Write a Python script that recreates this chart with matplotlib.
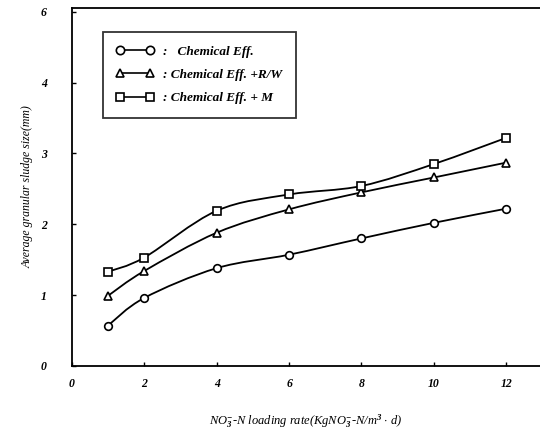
import matplotlib
matplotlib.use("Agg")
import matplotlib.pyplot as plt
from matplotlib.path import Path
from matplotlib.patches import PathPatch

plt.rcParams['font.family'] = ['Liberation Serif', 'DejaVu Serif']
plt.rcParams['font.style'] = 'italic'
plt.rcParams['font.weight'] = 'bold'
plt.rcParams['mathtext.fontset'] = 'custom'
plt.rcParams['mathtext.rm'] = 'Liberation Serif:italic:bold'
plt.rcParams['mathtext.it'] = 'Liberation Serif:italic:bold'
plt.rcParams['mathtext.bf'] = 'Liberation Serif:italic:bold'

loading = [1, 2, 4, 6, 8, 10, 12]
chem = [0.57, 0.96, 1.38, 1.57, 1.80, 2.02, 2.22]
chem_rw = [0.99, 1.34, 1.88, 2.21, 2.45, 2.66, 2.87]
chem_m = [1.33, 1.53, 2.19, 2.42, 2.54, 2.85, 3.22]

labels = [":   Chemical Eff.", ": Chemical Eff. +R/W", ": Chemical Eff. + M"]
markers = ["o", "^", "s"]

yticks = [0, 1, 2, 3, 4, 5]
ytick_labels = ["0", "1", "2", "3", "4", "6"]
xticks = [0, 2, 4, 6, 8, 10, 12]


def smooth_path(xs, ys):
    # catmull-rom style bezier through the measured points
    verts = [(xs[0], ys[0])]
    codes = [Path.MOVETO]
    n = len(xs)
    for i in range(n - 1):
        x0, y0 = (xs[i - 1], ys[i - 1]) if i > 0 else (xs[i], ys[i])
        x1, y1 = xs[i], ys[i]
        x2, y2 = xs[i + 1], ys[i + 1]
        x3, y3 = (xs[i + 2], ys[i + 2]) if i + 2 < n else (x2, y2)
        c1 = (x1 + (x2 - x0) / 6, y1 + (y2 - y0) / 6)
        c2 = (x2 - (x3 - x1) / 6, y2 - (y3 - y1) / 6)
        verts += [c1, c2, (x2, y2)]
        codes += [Path.CURVE4] * 3
    return Path(verts, codes)


fig = plt.figure(figsize=(5.4, 4.29), dpi=100)
ax = fig.add_axes([0.133, 0.147, 0.867, 0.834])

for ys, m, lab in zip([chem, chem_rw, chem_m], markers, labels):
    ax.add_patch(PathPatch(smooth_path(loading, ys), fill=False, lw=1.3,
                           edgecolor="black"))
    ax.plot(loading, ys, linestyle="none", marker=m, markersize=5.5,
            markerfacecolor="white", markeredgecolor="black",
            markeredgewidth=1.2)
    ax.plot([], [], color="black", lw=1.2, marker=m, markersize=6,
            markerfacecolor="white", markeredgecolor="black",
            markeredgewidth=1.2, label=lab)

ax.set_xlim(0, 12.93)
ax.set_ylim(0, 5.05)
ax.set_xticks(xticks)
ax.set_yticks(yticks)
ax.set_yticklabels(ytick_labels)
ax.tick_params(direction="in", length=3, labelsize=8.5, width=1)
ax.tick_params(axis="x", pad=9)
ax.tick_params(axis="y", pad=18)
ax.spines["right"].set_visible(False)
for s in ["left", "bottom", "top"]:
    ax.spines[s].set_linewidth(1.3)

ax.set_xlabel("NO${}_{3}^{-}$-N loading rate(KgNO${}_{3}^{-}$-N/m$^{3}$ $\\cdot$ d)",
              fontsize=9, labelpad=16)
ax.set_ylabel("Average granular sludge size(mm)", fontsize=8.5, labelpad=5)

leg = ax.legend(loc="upper left", bbox_to_anchor=(0.066, 0.933), numpoints=2,
                handlelength=2.9, fontsize=9.5, frameon=True, fancybox=False,
                edgecolor="black", borderpad=1.0, labelspacing=0.85,
                handletextpad=0.7, borderaxespad=0)
leg.get_frame().set_linewidth(1.3)

fig.savefig("out.png", dpi=100)
